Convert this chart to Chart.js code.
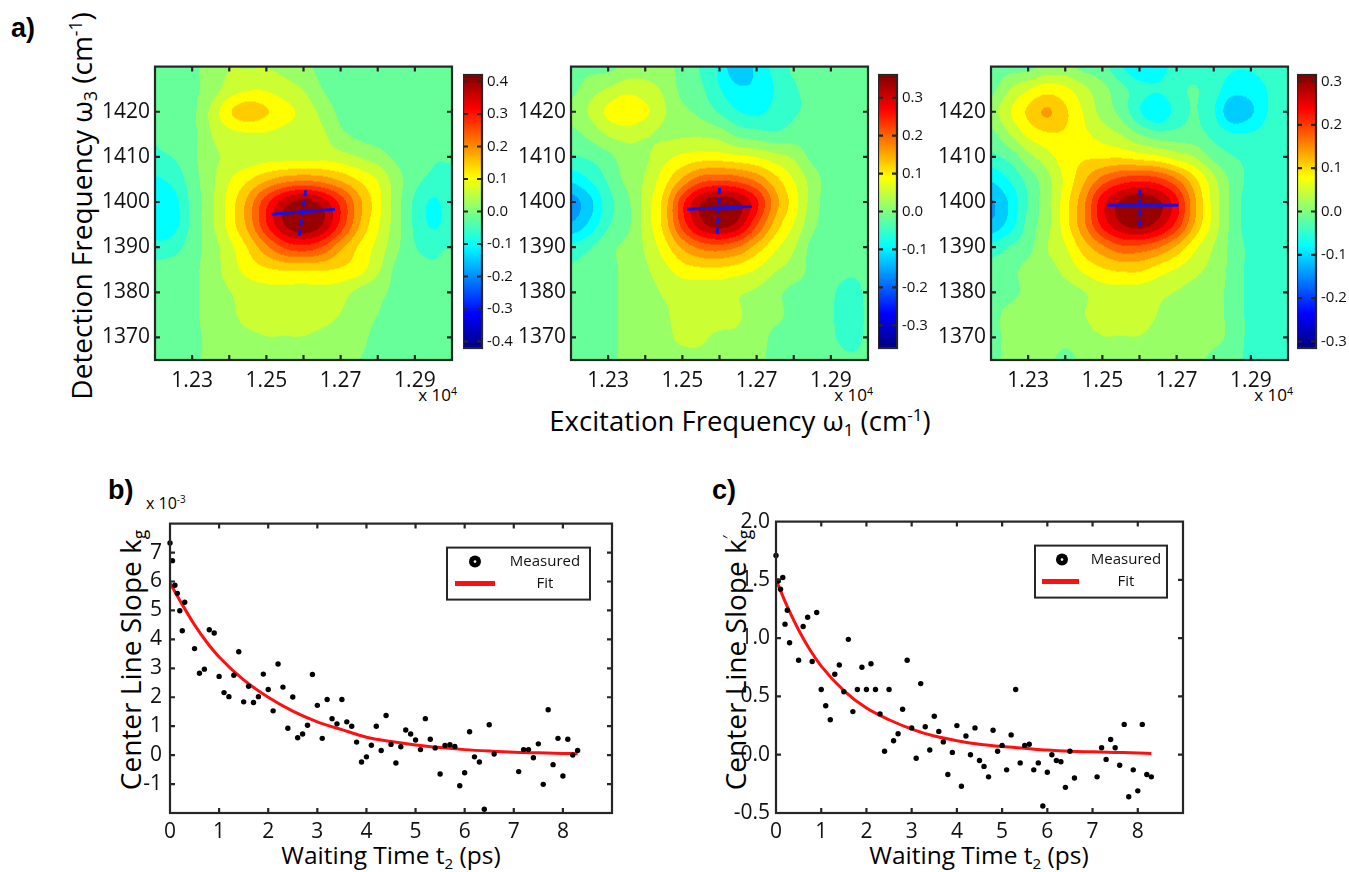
<!DOCTYPE html>
<html>
<head>
<meta charset="utf-8">
<title>2D spectra and centre line slope decay</title>
<script src="https://cdn.jsdelivr.net/npm/chart.js@4.4.1/dist/chart.umd.min.js"></script>
<style>
  body { margin: 0; background: #fff; }
  #page { position: relative; width: 1349px; height: 872px; overflow: hidden; font-family: "Open Sans", sans-serif; color: #000; }
  #page canvas { position: absolute; }
  .txt { position: absolute; white-space: nowrap; line-height: 1; }
  .panel { font-family: "Liberation Sans", Arial, sans-serif; font-weight: bold; font-size: 27px; }
  .vert { transform: translate(-50%, -50%) rotate(-90deg); }
  .mid { transform: translate(-50%, -50%); }
  .right { transform: translateX(-100%); }
  .sub { font-size: 0.62em; position: relative; top: 0.3em; }
  .sup { font-size: 0.62em; position: relative; top: -0.6em; }
</style>
</head>
<body>
<div id="page">
  <div class="txt panel" style="left:11px;top:15px">a)</div>
  <div class="txt panel" style="left:108px;top:477px">b)</div>
  <div class="txt panel" style="left:712px;top:477px">c)</div>

  <div class="txt vert" style="left:81px;top:206px;font-size:28px">Detection Frequency &omega;<span class="sub">3</span> (cm<span class="sup">-1</span>)</div>
  <div class="txt mid" style="left:740px;top:421px;font-size:27.5px">Excitation Frequency &omega;<span class="sub">1</span> (cm<span class="sup">-1</span>)</div>

  <div class="txt right" style="left:447px;top:70px;font-size:28px">t<span class="sub">2</span> = 0 ps</div>
  <div class="txt right" style="left:863px;top:70px;font-size:28px">t<span class="sub">2</span> = 1 ps</div>
  <div class="txt right" style="left:1283px;top:70px;font-size:28px">t<span class="sub">2</span> = 5 ps</div>

  <div class="txt right" style="left:457px;top:386px;font-size:17px">x 10<span class="sup">4</span></div>
  <div class="txt right" style="left:873px;top:386px;font-size:17px">x 10<span class="sup">4</span></div>
  <div class="txt right" style="left:1293px;top:386px;font-size:17px">x 10<span class="sup">4</span></div>

  <div class="txt" style="left:146px;top:495px;font-size:16px">x 10<span class="sup">-3</span></div>
  <div class="txt vert" style="left:130px;top:660px;font-size:28px">Center Line Slope k<span class="sub">g</span></div>
  <div class="txt vert" style="left:735px;top:660px;font-size:28px">Center Line Slope k<span class="sup">&prime;</span><span class="sub" style="margin-left:-0.22em">g</span></div>
  <div class="txt mid" style="left:391px;top:855px;font-size:24.5px">Waiting Time t<span class="sub">2</span> (ps)</div>
  <div class="txt mid" style="left:979px;top:855px;font-size:24.5px">Waiting Time t<span class="sub">2</span> (ps)</div>
</div>
<script>
// ---- 2D spectra grid: excitation (columns) x detection (rows, top to bottom)
const OMEGA1 = [12200, 12250, 12300, 12350, 12400, 12450, 12500, 12550, 12600, 12650, 12700, 12750, 12800, 12850, 12900, 12950, 13000];
const OMEGA3 = [1430, 1425, 1420, 1415, 1410, 1405, 1400, 1395, 1390, 1385, 1380, 1375, 1370, 1365];

// axis ticks of the maps (x labels shown at every second tick)
const MAP_X_TICKS = [12300, 12400, 12500, 12600, 12700, 12800, 12900];
const MAP_X_LABELS = ['1.23', '', '1.25', '', '1.27', '', '1.29'];
const MAP_Y_TICKS = [1370, 1380, 1390, 1400, 1410, 1420];

const MAP_T0 = [
  [-0.03, -0.02, -0.01, 0.02, 0.04, 0.04, 0.04, 0.03, 0.01, -0.01, -0.02, -0.02, -0.03, -0.04, -0.04, -0.04, -0.04],
  [-0.02, -0.02, -0.01, 0.02, 0.06, 0.08, 0.08, 0.06, 0.04, 0.00, -0.02, -0.02, -0.03, -0.04, -0.04, -0.04, -0.04],
  [-0.03, -0.02, -0.01, 0.05, 0.12, 0.15, 0.13, 0.10, 0.07, 0.03, -0.01, -0.02, -0.02, -0.04, -0.04, -0.04, -0.04],
  [-0.04, -0.02, -0.01, 0.04, 0.07, 0.08, 0.08, 0.07, 0.06, 0.05, 0.01, -0.01, -0.02, -0.03, -0.04, -0.04, -0.04],
  [-0.05, -0.04, -0.01, 0.03, 0.05, 0.06, 0.07, 0.07, 0.07, 0.07, 0.06, 0.04, 0.02, -0.01, -0.03, -0.04, -0.04],
  [-0.09, -0.07, -0.02, 0.03, 0.08, 0.12, 0.16, 0.19, 0.20, 0.19, 0.16, 0.12, 0.08, 0.02, -0.03, -0.05, -0.05],
  [-0.12, -0.10, -0.03, 0.03, 0.10, 0.18, 0.28, 0.36, 0.40, 0.36, 0.28, 0.18, 0.10, 0.02, -0.05, -0.09, -0.06],
  [-0.12, -0.10, -0.03, 0.03, 0.10, 0.18, 0.29, 0.38, 0.42, 0.38, 0.28, 0.17, 0.09, 0.02, -0.05, -0.09, -0.06],
  [-0.07, -0.06, -0.02, 0.02, 0.07, 0.13, 0.20, 0.26, 0.28, 0.25, 0.18, 0.12, 0.07, 0.01, -0.04, -0.05, -0.04],
  [-0.03, -0.02, -0.01, 0.02, 0.06, 0.10, 0.12, 0.13, 0.13, 0.13, 0.12, 0.10, 0.05, -0.01, -0.03, -0.04, -0.03],
  [-0.04, -0.02, -0.01, 0.02, 0.04, 0.06, 0.07, 0.07, 0.07, 0.07, 0.06, 0.03, 0.01, -0.01, -0.03, -0.04, -0.03],
  [-0.02, -0.01, -0.01, 0.02, 0.03, 0.06, 0.07, 0.07, 0.07, 0.06, 0.04, 0.02, 0.00, -0.01, -0.02, -0.03, -0.03],
  [-0.02, -0.01, -0.01, 0.01, 0.02, 0.03, 0.04, 0.04, 0.04, 0.03, 0.02, 0.01, -0.01, -0.01, -0.02, -0.03, -0.03],
  [-0.02, -0.01, -0.01, 0.01, 0.01, 0.02, 0.02, 0.02, 0.02, 0.02, 0.01, 0.00, -0.01, -0.02, -0.02, -0.03, -0.03]
];

const MAP_T1 = [
  [-0.02, -0.01, -0.01, 0.01, 0.02, 0.01, -0.01, -0.04, -0.08, -0.14, -0.10, -0.06, -0.03, -0.03, -0.03, -0.03, -0.03],
  [-0.01, 0.02, 0.04, 0.06, 0.05, 0.03, -0.01, -0.03, -0.07, -0.10, -0.10, -0.07, -0.04, -0.03, -0.03, -0.03, -0.03],
  [0.01, 0.04, 0.08, 0.10, 0.08, 0.04, 0.01, -0.01, -0.04, -0.07, -0.08, -0.06, -0.04, -0.03, -0.03, -0.03, -0.02],
  [-0.01, 0.01, 0.04, 0.05, 0.04, 0.03, 0.03, 0.03, 0.02, -0.01, -0.02, -0.03, -0.02, -0.02, -0.02, -0.02, -0.02],
  [-0.04, -0.03, -0.01, 0.02, 0.03, 0.06, 0.08, 0.09, 0.09, 0.08, 0.07, 0.05, 0.03, -0.01, -0.02, -0.02, -0.02],
  [-0.10, -0.07, -0.03, 0.01, 0.04, 0.09, 0.15, 0.20, 0.21, 0.20, 0.17, 0.12, 0.07, 0.02, -0.02, -0.03, -0.03],
  [-0.16, -0.12, -0.05, -0.01, 0.05, 0.12, 0.24, 0.32, 0.35, 0.33, 0.26, 0.16, 0.09, 0.02, -0.02, -0.03, -0.03],
  [-0.14, -0.10, -0.04, -0.01, 0.05, 0.12, 0.23, 0.31, 0.34, 0.31, 0.22, 0.13, 0.07, 0.01, -0.02, -0.03, -0.03],
  [-0.06, -0.04, -0.01, 0.01, 0.04, 0.09, 0.15, 0.19, 0.20, 0.18, 0.13, 0.08, 0.04, -0.01, -0.02, -0.03, -0.03],
  [-0.03, -0.02, -0.01, 0.01, 0.03, 0.06, 0.09, 0.10, 0.10, 0.09, 0.07, 0.04, 0.02, -0.01, -0.02, -0.03, -0.03],
  [-0.02, -0.01, -0.01, 0.01, 0.02, 0.04, 0.05, 0.05, 0.05, 0.04, 0.03, 0.01, -0.01, -0.01, -0.03, -0.05, -0.03],
  [-0.02, -0.01, -0.01, 0.01, 0.02, 0.03, 0.05, 0.05, 0.05, 0.04, 0.02, 0.01, -0.01, -0.01, -0.03, -0.06, -0.03],
  [-0.02, -0.01, -0.01, 0.01, 0.02, 0.03, 0.04, 0.04, 0.03, 0.03, 0.02, -0.01, -0.01, -0.02, -0.03, -0.05, -0.03],
  [-0.02, -0.01, -0.01, 0.01, 0.02, 0.03, 0.03, 0.03, 0.02, 0.02, 0.01, -0.01, -0.01, -0.02, -0.02, -0.03, -0.03]
];

const MAP_T5 = [
  [-0.02, -0.01, -0.01, 0.01, 0.01, -0.01, -0.02, -0.06, -0.09, -0.08, -0.05, -0.04, -0.05, -0.06, -0.06, -0.05, -0.05],
  [-0.01, 0.03, 0.06, 0.08, 0.07, 0.04, 0.01, -0.02, -0.05, -0.06, -0.04, -0.03, -0.05, -0.08, -0.08, -0.06, -0.05],
  [0.02, 0.06, 0.10, 0.13, 0.10, 0.06, 0.02, -0.01, -0.06, -0.09, -0.05, -0.03, -0.06, -0.12, -0.10, -0.06, -0.05],
  [-0.01, 0.03, 0.07, 0.09, 0.09, 0.07, 0.05, 0.03, 0.00, -0.02, -0.02, -0.02, -0.04, -0.06, -0.06, -0.05, -0.05],
  [-0.04, -0.02, 0.02, 0.05, 0.08, 0.09, 0.09, 0.09, 0.08, 0.07, 0.05, 0.03, -0.01, -0.03, -0.04, -0.05, -0.05],
  [-0.09, -0.06, -0.02, 0.02, 0.07, 0.12, 0.17, 0.20, 0.21, 0.20, 0.16, 0.10, 0.04, -0.01, -0.04, -0.05, -0.05],
  [-0.13, -0.09, -0.03, 0.02, 0.08, 0.15, 0.24, 0.29, 0.31, 0.29, 0.23, 0.13, 0.05, -0.01, -0.05, -0.06, -0.05],
  [-0.12, -0.08, -0.02, 0.02, 0.08, 0.15, 0.23, 0.28, 0.30, 0.27, 0.21, 0.12, 0.05, -0.01, -0.05, -0.06, -0.05],
  [-0.05, -0.03, -0.01, 0.03, 0.06, 0.11, 0.15, 0.18, 0.18, 0.16, 0.12, 0.07, 0.03, -0.01, -0.04, -0.05, -0.05],
  [-0.02, -0.01, 0.01, 0.02, 0.04, 0.07, 0.09, 0.10, 0.10, 0.08, 0.06, 0.04, 0.02, -0.01, -0.04, -0.04, -0.04],
  [-0.01, -0.01, 0.01, 0.02, 0.02, 0.03, 0.05, 0.05, 0.05, 0.04, 0.03, 0.02, 0.01, -0.01, -0.04, -0.04, -0.04],
  [-0.01, 0.01, 0.02, 0.02, 0.02, 0.03, 0.05, 0.05, 0.05, 0.03, 0.02, 0.02, 0.01, -0.01, -0.04, -0.04, -0.04],
  [-0.01, 0.01, 0.02, 0.02, 0.01, 0.02, 0.03, 0.03, 0.03, 0.02, 0.02, 0.02, 0.01, -0.01, -0.04, -0.04, -0.04],
  [-0.01, 0.01, 0.02, 0.01, -0.01, 0.01, 0.02, 0.02, 0.02, 0.02, 0.02, 0.01, -0.01, -0.02, -0.04, -0.04, -0.04]
];

// colour scale limits and labelled ticks of each map
const CBAR_MAX = [0.42, 0.36, 0.315];
const CBAR_TICKS = [
  [-0.4, -0.3, -0.2, -0.1, 0, 0.1, 0.2, 0.3, 0.4],
  [-0.3, -0.2, -0.1, 0, 0.1, 0.2, 0.3],
  [-0.3, -0.2, -0.1, 0, 0.1, 0.2, 0.3]
];

// centre line (solid) and its perpendicular (dashed), [omega1, omega3]
const CL_SOLID = [
  [[12514, 1397.3], [12685, 1398.4]],
  [[12512, 1398.4], [12687, 1399.0]],
  [[12513, 1399.3], [12705, 1399.3]]
];
const CL_DASHED = [
  [[12606, 1402.6], [12588, 1392.1]],
  [[12600, 1403.1], [12594, 1393.0]],
  [[12601, 1402.6], [12601, 1394.1]]
];

// ---- centre line slope vs waiting time
const T2 = [0, 0.05, 0.1, 0.15, 0.2, 0.25, 0.3,
  0.5, 0.6, 0.7, 0.8, 0.9, 1.0, 1.1, 1.2, 1.3, 1.4, 1.5, 1.6, 1.7, 1.8, 1.9, 2.0, 2.1, 2.2, 2.3, 2.4, 2.5,
  2.6, 2.7, 2.8, 2.9, 3.0, 3.1, 3.2, 3.3, 3.4, 3.5, 3.6, 3.7, 3.8, 3.9, 4.0, 4.1, 4.2, 4.3, 4.4, 4.5, 4.6,
  4.7, 4.8, 4.9, 5.0, 5.1, 5.2, 5.3, 5.4, 5.5, 5.6, 5.7, 5.8, 5.9, 6.0, 6.1, 6.2, 6.3, 6.4, 6.5, 6.6,
  7.1, 7.2, 7.3, 7.4, 7.5, 7.6, 7.7, 7.8, 7.9, 8.0, 8.1, 8.2, 8.3];
const KG = [7.33, 6.72, 5.87, 5.59, 4.99, 4.30, 5.28,
  3.68, 2.83, 2.97, 4.33, 4.22, 2.72, 2.16, 2.02, 2.76, 3.57, 1.84, 2.38, 1.82, 2.02, 2.80, 2.27, 1.53, 3.15, 2.35, 0.93, 2.01,
  0.60, 0.73, 1.03, 2.79, 1.72, 0.58, 1.92, 1.26, 1.08, 1.92, 1.15, 1.00, 0.45, -0.24, -0.06, 0.34, 1.00, 0.16, 1.37, 0.37, -0.27,
  0.29, 0.87, 0.73, 0.52, 0.19, 1.26, 0.55, 0.25, -0.65, 0.33, 0.36, 0.30, -1.06, -0.61, 0.81, -0.06, -0.24, -1.87, 1.05, 0.04,
  -0.57, 0.19, 0.19, -0.09, 0.39, -1.01, 1.57, -0.33, 0.58, -0.72, 0.55, 0.00, 0.16];
const KG_PRIME = [1.71, 1.49, 1.42, 1.52, 1.12, 1.24, 0.96,
  0.81, 1.10, 1.18, 0.80, 1.22, 0.56, 0.42, 0.30, 0.69, 0.77, 0.54, 0.99, 0.37, 0.56, 0.75, 0.56, 0.78, 0.56, 0.35, 0.03, 0.56,
  0.12, 0.18, 0.39, 0.81, 0.23, -0.03, 0.61, 0.24, 0.04, 0.33, 0.20, 0.11, -0.17, 0.02, 0.25, -0.27, 0.16, 0.00, 0.23, -0.05, -0.10,
  -0.19, 0.21, 0.03, 0.08, -0.13, 0.17, 0.56, -0.07, 0.08, 0.09, -0.13, -0.07, -0.44, -0.15, 0.00, -0.05, -0.06, -0.28, 0.03, -0.20,
  -0.19, 0.06, -0.04, 0.13, 0.06, -0.09, 0.26, -0.36, -0.13, -0.31, 0.26, -0.17, -0.19];

const FIT_T = [0, 0.25, 0.5, 0.75, 1, 1.5, 2, 2.5, 3, 3.5, 4, 4.5, 5, 5.5, 6, 6.5, 7, 7.5, 8, 8.3];
const KG_FIT = [5.95, 5.2, 4.5, 3.9, 3.39, 2.6, 2.0, 1.52, 1.15, 0.88, 0.62, 0.47, 0.35, 0.26, 0.19, 0.14, 0.10, 0.08, 0.06, 0.05];
const KG_PRIME_FIT = [1.5, 1.27, 1.07, 0.9, 0.76, 0.55, 0.40, 0.30, 0.22, 0.16, 0.12, 0.09, 0.07, 0.055, 0.04, 0.03, 0.025, 0.02, 0.015, 0.01];

// ---------------------------------------------------------------------
Chart.defaults.font.family = '"Open Sans", sans-serif';
Chart.defaults.color = '#111';

const N_LEVELS = 20;

function jet(t) {
  const f = v => Math.round(255 * Math.min(1, Math.max(0, v)));
  return [f(1.5 - Math.abs(4 * t - 3)), f(1.5 - Math.abs(4 * t - 2)), f(1.5 - Math.abs(4 * t - 1))];
}

function addCanvas(left, top, width, height) {
  const c = document.createElement('canvas');
  c.width = width;
  c.height = height;
  c.style.left = left + 'px';
  c.style.top = top + 'px';
  c.style.width = width + 'px';
  c.style.height = height + 'px';
  document.getElementById('page').appendChild(c);
  return c;
}

// filled contour map drawn from the grid cells of a dataset
const heatmap = {
  id: 'heatmap',
  beforeDatasetsDraw(chart) {
    const ds = chart.data.datasets.find(d => d.grid);
    if (!ds) return;
    const { ctx, chartArea: a } = chart;
    const sx = chart.scales.x, sy = chart.scales.y;
    const nx = ds.xs.length, ny = ds.ys.length;
    const val = (r, c) => ds.data[Math.min(ny - 1, Math.max(0, r)) * nx + Math.min(nx - 1, Math.max(0, c))].v;
    const cub = (p0, p1, p2, p3, t) =>
      p1 + 0.5 * t * (p2 - p0 + t * (2 * p0 - 5 * p1 + 4 * p2 - p3 + t * (3 * (p1 - p2) + p3 - p0)));
    const w = Math.round(a.right - a.left), h = Math.round(a.bottom - a.top);
    const off = document.createElement('canvas');
    off.width = w;
    off.height = h;
    const octx = off.getContext('2d');
    const img = octx.createImageData(w, h);
    const fxs = [], fys = [];
    for (let i = 0; i < w; i++) fxs.push((sx.getValueForPixel(a.left + i + 0.5) - ds.xs[0]) / (ds.xs[1] - ds.xs[0]));
    for (let j = 0; j < h; j++) fys.push((sy.getValueForPixel(a.top + j + 0.5) - ds.ys[0]) / (ds.ys[1] - ds.ys[0]));
    const vmax = ds.vmax;
    for (let j = 0; j < h; j++) {
      const r = Math.floor(fys[j]), ty = fys[j] - r;
      for (let i = 0; i < w; i++) {
        const c = Math.floor(fxs[i]), tx = fxs[i] - c;
        const col = [];
        for (let k = -1; k <= 2; k++) {
          col.push(cub(val(r + k, c - 1), val(r + k, c), val(r + k, c + 1), val(r + k, c + 2), tx));
        }
        const v = cub(col[0], col[1], col[2], col[3], ty);
        let lvl = Math.floor((v + vmax) / (2 * vmax) * N_LEVELS);
        lvl = Math.min(N_LEVELS - 1, Math.max(0, lvl));
        const rgb = jet((lvl + 0.5) / N_LEVELS);
        const p = (j * w + i) * 4;
        img.data[p] = rgb[0];
        img.data[p + 1] = rgb[1];
        img.data[p + 2] = rgb[2];
        img.data[p + 3] = 255;
      }
    }
    octx.putImageData(img, 0, 0);
    ctx.drawImage(off, a.left, a.top);
  }
};

// continuous colour bar
const jetBar = {
  id: 'jetBar',
  beforeDatasetsDraw(chart) {
    const { ctx, chartArea: a } = chart;
    const sy = chart.scales.y;
    for (let py = Math.floor(a.top); py < a.bottom; py++) {
      const v = sy.getValueForPixel(py + 0.5);
      const rgb = jet((v - sy.min) / (sy.max - sy.min));
      ctx.fillStyle = 'rgb(' + rgb.join(',') + ')';
      ctx.fillRect(a.left, py, a.right - a.left, 1);
    }
  }
};

// matlab-like box with inward ticks on all sides
const frame = {
  id: 'frame',
  defaults: { lineWidth: 2.2, tickLength: 5 },
  afterDatasetsDraw(chart, args, opts) {
    const { ctx, chartArea: a } = chart;
    const L = opts.tickLength;
    ctx.save();
    ctx.strokeStyle = '#262626';
    ctx.lineWidth = opts.lineWidth;
    ctx.beginPath();
    for (const id of ['x', 'y']) {
      const s = chart.scales[id];
      if (!s || !s.options.display) continue;
      for (const t of s.ticks) {
        if (t.value <= s.min + 1e-9 || t.value >= s.max - 1e-9) continue;
        const p = s.getPixelForValue(t.value);
        if (id === 'x') {
          ctx.moveTo(p, a.bottom); ctx.lineTo(p, a.bottom - L);
          ctx.moveTo(p, a.top); ctx.lineTo(p, a.top + L);
        } else {
          ctx.moveTo(a.left, p); ctx.lineTo(a.left + L, p);
          ctx.moveTo(a.right, p); ctx.lineTo(a.right - L, p);
        }
      }
    }
    ctx.stroke();
    ctx.strokeRect(a.left, a.top, a.right - a.left, a.bottom - a.top);
    ctx.restore();
  }
};

// boxed legend in the upper right corner of the plot
const boxLegend = {
  id: 'boxLegend',
  afterDatasetsDraw(chart, args, o) {
    if (!o.width) return;
    const { ctx, chartArea: a } = chart;
    const [meas, fit] = chart.data.datasets;
    const x0 = a.right - o.right - o.width, y0 = a.top + o.top;
    ctx.save();
    ctx.fillStyle = '#fff';
    ctx.fillRect(x0, y0, o.width, o.height);
    ctx.strokeStyle = '#262626';
    ctx.lineWidth = 2;
    ctx.strokeRect(x0, y0, o.width, o.height);
    const r1 = y0 + 14, r2 = y0 + 36;
    ctx.fillStyle = '#000';
    ctx.beginPath();
    ctx.arc(x0 + o.markerX, r1, 6, 0, Math.PI * 2);
    ctx.fill();
    ctx.fillStyle = '#fff';
    ctx.beginPath();
    ctx.arc(x0 + o.markerX, r1, 1.3, 0, Math.PI * 2);
    ctx.fill();
    ctx.strokeStyle = fit.borderColor;
    ctx.lineWidth = 5;
    ctx.beginPath();
    ctx.moveTo(x0 + o.lineX0, r2);
    ctx.lineTo(x0 + o.lineX1, r2);
    ctx.stroke();
    ctx.fillStyle = '#111';
    ctx.font = '15px "Open Sans", sans-serif';
    ctx.textAlign = 'center';
    ctx.textBaseline = 'middle';
    ctx.fillText(meas.label, x0 + o.textX, r1);
    ctx.fillText(fit.label, x0 + o.textX, r2);
    ctx.restore();
  }
};

const PAD_T = 14;

function pairs(list) {
  return list.map(([x, y]) => ({ x, y }));
}

function mapChart(left, grid, vmax, solid, dashed) {
  const YW = 62, XH = 50, PR = 12;
  const canvas = addCanvas(left - YW, 63 - PAD_T, YW + 297 + PR, PAD_T + 297 + XH);
  const cells = [];
  OMEGA3.forEach((w3, r) => OMEGA1.forEach((w1, c) => cells.push({ x: w1, y: w3, v: grid[r][c] })));
  return new Chart(canvas, {
    type: 'scatter',
    data: {
      datasets: [
        { label: 'center line', data: pairs(solid), showLine: true, borderColor: '#1414e8', borderWidth: 3, pointRadius: 0 },
        { label: 'normal', data: pairs(dashed), showLine: true, borderColor: '#1414e8', borderWidth: 3, borderDash: [6, 4], pointRadius: 0 },
        { label: 'spectrum', data: cells, grid: true, xs: OMEGA1, ys: OMEGA3, vmax: vmax, pointRadius: 0, showLine: false }
      ]
    },
    options: {
      responsive: false,
      animation: false,
      events: [],
      layout: { padding: { top: PAD_T, right: PR, left: 0, bottom: 0 } },
      plugins: { legend: { display: false }, tooltip: { enabled: false } },
      scales: {
        x: {
          type: 'linear', min: 12200, max: 13000,
          grid: { display: false, drawTicks: false }, border: { display: false },
          afterBuildTicks: s => { s.ticks = MAP_X_TICKS.map(v => ({ value: v })); },
          ticks: {
            autoSkip: false, maxRotation: 0, padding: 8, font: { size: 21 },
            callback: (v, i) => MAP_X_LABELS[i]
          },
          afterFit: s => { s.height = XH; }
        },
        y: {
          type: 'linear', min: 1365, max: 1430,
          grid: { display: false, drawTicks: false }, border: { display: false },
          afterBuildTicks: s => { s.ticks = MAP_Y_TICKS.map(v => ({ value: v })); },
          ticks: {
            autoSkip: false, padding: 5, font: { size: 21 },
            callback: v => String(v)
          },
          afterFit: s => { s.width = YW; }
        }
      }
    },
    plugins: [heatmap, frame]
  });
}

function colorBar(left, vmax, tickValues) {
  const CW = 19, LW = 34, PV = 12;
  const canvas = addCanvas(left, 73 - PV, CW + LW, PV + 277 + PV);
  return new Chart(canvas, {
    type: 'scatter',
    data: { datasets: [{ data: [] }] },
    options: {
      responsive: false,
      animation: false,
      events: [],
      layout: { padding: { top: PV, bottom: PV, left: 0, right: 0 } },
      plugins: { legend: { display: false }, tooltip: { enabled: false } },
      scales: {
        x: { display: false, min: 0, max: 1 },
        y: {
          position: 'right', min: -vmax, max: vmax,
          grid: { display: false, drawTicks: false }, border: { display: false },
          afterBuildTicks: s => { s.ticks = tickValues.map(v => ({ value: v })); },
          ticks: {
            autoSkip: false, padding: 5, font: { size: 15 },
            callback: v => v.toFixed(1)
          },
          afterFit: s => { s.width = LW; }
        }
      }
    },
    plugins: [jetBar, frame]
  });
}

function slopeChart(plotLeft, plotWidth, yw, ys, fit, yScale, legend) {
  const XH = 45, PR = 12;
  const canvas = addCanvas(plotLeft - yw, 517 - PAD_T, yw + plotWidth + PR, PAD_T + 296 + XH);
  return new Chart(canvas, {
    type: 'scatter',
    data: {
      datasets: [
        { label: 'Measured', data: T2.map((t, i) => ({ x: t, y: ys[i] })), backgroundColor: '#000', borderWidth: 0, pointRadius: 2.7, clip: 4 },
        { label: 'Fit', data: FIT_T.map((t, i) => ({ x: t, y: fit[i] })), showLine: true, borderColor: '#ff1010', borderWidth: 3,
          pointRadius: 0, cubicInterpolationMode: 'monotone' }
      ]
    },
    options: {
      responsive: false,
      animation: false,
      events: [],
      layout: { padding: { top: PAD_T, right: PR, left: 0, bottom: 0 } },
      plugins: { legend: { display: false }, tooltip: { enabled: false }, boxLegend: legend },
      scales: {
        x: {
          type: 'linear', min: 0, max: 9,
          grid: { display: false, drawTicks: false }, border: { display: false },
          ticks: { stepSize: 1, autoSkip: false, maxRotation: 0, padding: 6, font: { size: 21 },
            callback: v => v < 9 ? String(v) : '' },
          afterFit: s => { s.height = XH; }
        },
        y: Object.assign({
          type: 'linear',
          grid: { display: false, drawTicks: false }, border: { display: false },
          afterFit: s => { s.width = yw; }
        }, yScale)
      }
    },
    plugins: [frame, boxLegend]
  });
}

const MAPS = [MAP_T0, MAP_T1, MAP_T5];
const MAP_LEFT = [155, 571, 991];
const BAR_LEFT = [463, 878, 1297];
MAPS.forEach((grid, i) => {
  mapChart(MAP_LEFT[i], grid, CBAR_MAX[i], CL_SOLID[i], CL_DASHED[i]);
  colorBar(BAR_LEFT[i], CBAR_MAX[i], CBAR_TICKS[i]);
});

slopeChart(170, 442, 50, KG, KG_FIT,
  { min: -2, max: 8, ticks: { stepSize: 1, padding: 8, font: { size: 21 }, callback: v => (v > -2 && v < 8) ? String(v) : '' } },
  { right: 22, top: 24, width: 143, height: 52, markerX: 28, lineX0: 8, lineX1: 48, textX: 98 });

slopeChart(776, 407, 58, KG_PRIME, KG_PRIME_FIT,
  { min: -0.5, max: 2, ticks: { stepSize: 0.5, padding: 6, font: { size: 21 }, callback: v => v.toFixed(1) } },
  { right: 16, top: 24, width: 132, height: 52, markerX: 27, lineX0: 7, lineX1: 44, textX: 91 });
</script>
</body>
</html>
